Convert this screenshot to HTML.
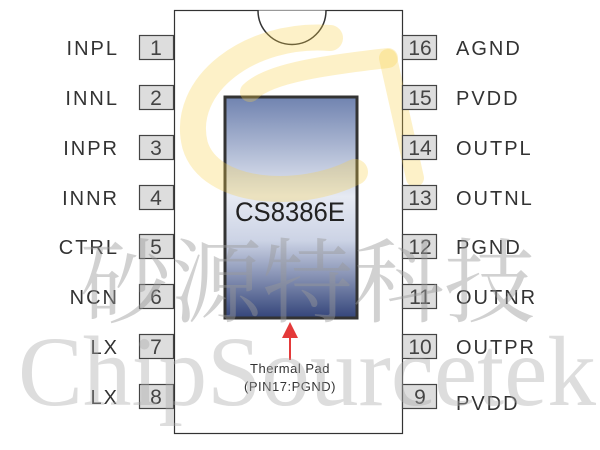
<!DOCTYPE html>
<html><head><meta charset="utf-8"><style>
body{margin:0;width:600px;height:450px;background:#fff;overflow:hidden;position:relative;font-family:"Liberation Sans",sans-serif}
</style></head><body>
<svg width="600" height="450" viewBox="0 0 600 450" style="position:absolute;left:0;top:0">
<defs>
<linearGradient id="g" x1="0" y1="0" x2="0" y2="1">
<stop offset="0" stop-color="#7083b0"/><stop offset="0.45" stop-color="#e6eaf3"/><stop offset="0.65" stop-color="#ccd3e5"/><stop offset="1" stop-color="#34457a"/>
</linearGradient>
</defs>
<rect x="174.5" y="10.5" width="228" height="423" fill="#fff" stroke="#333" stroke-width="1.2"/>
<path d="M258 10.5 A34 34 0 0 0 326 10.5" fill="#fff" stroke="#333" stroke-width="1.5"/>
<rect x="225" y="97" width="132" height="221" fill="url(#g)" stroke="#333" stroke-width="3"/>
<g fill="none" stroke="#f7d24a" stroke-opacity="0.3" stroke-linecap="round">
<path d="M330 38 C250 32 180 85 195 145 C210 195 300 200 355 172" stroke-width="26"/>
<path d="M250 92 C270 72 330 65 388 58" stroke-width="20"/>
<path d="M388 58 L415 178" stroke-width="18"/>
</g>
<text x="290" y="221" font-family="Liberation Sans Narrow,Liberation Sans,sans-serif" font-size="27" fill="#222" text-anchor="middle" textLength="110" lengthAdjust="spacingAndGlyphs">CS8386E</text>
<line x1="290" y1="336" x2="290" y2="360" stroke="#e43a3a" stroke-width="2"/>
<polygon points="290,322 282,338 298,338" fill="#e43a3a"/>
<text x="290" y="373" font-size="13" fill="#333" text-anchor="middle" letter-spacing="0.5">Thermal Pad</text>
<text x="290" y="391" font-size="13" fill="#333" text-anchor="middle" letter-spacing="0.5">(PIN17:PGND)</text>
<g fill="#ddd" stroke="#444" stroke-width="1.2">
<rect x="139.5" y="35.5" width="34" height="24"/><rect x="139.5" y="85.5" width="34" height="24"/>
<rect x="139.5" y="135.5" width="34" height="24"/><rect x="139.5" y="185.5" width="34" height="24"/>
<rect x="139.5" y="234.5" width="34" height="24"/><rect x="139.5" y="284.5" width="34" height="24"/>
<rect x="139.5" y="334.5" width="34" height="24"/><rect x="139.5" y="384.5" width="34" height="24"/>
<rect x="402.5" y="35.5" width="34" height="24"/><rect x="402.5" y="85.5" width="34" height="24"/>
<rect x="402.5" y="135.5" width="34" height="24"/><rect x="402.5" y="185.5" width="34" height="24"/>
<rect x="402.5" y="234.5" width="34" height="24"/><rect x="402.5" y="284.5" width="34" height="24"/>
<rect x="402.5" y="334.5" width="34" height="24"/><rect x="402.5" y="384.5" width="34" height="24"/>
</g>
<g font-size="21" fill="#444" text-anchor="middle">
<text x="156" y="55">1</text><text x="156" y="105">2</text><text x="156" y="155">3</text><text x="156" y="205">4</text>
<text x="156" y="254">5</text><text x="156" y="304">6</text><text x="156" y="354">7</text><text x="156" y="404">8</text>
<text x="420" y="55">16</text><text x="420" y="105">15</text><text x="420" y="155">14</text><text x="420" y="205">13</text>
<text x="420" y="254">12</text><text x="420" y="304">11</text><text x="420" y="354">10</text><text x="420" y="404">9</text>
</g>
<g font-size="20" fill="#333" text-anchor="end" letter-spacing="2">
<text x="119" y="55">INPL</text><text x="119" y="105">INNL</text><text x="119" y="155">INPR</text><text x="119" y="205">INNR</text>
<text x="119" y="254">CTRL</text><text x="119" y="304">NCN</text><text x="119" y="354">LX</text><text x="119" y="404">LX</text>
</g>
<g font-size="20" fill="#333" letter-spacing="2">
<text x="456" y="55">AGND</text><text x="456" y="105">PVDD</text><text x="456" y="155">OUTPL</text><text x="456" y="205">OUTNL</text>
<text x="456" y="254">PGND</text><text x="456" y="304">OUTNR</text><text x="456" y="354">OUTPR</text><text x="456" y="410">PVDD</text>
</g>
<text x="80" y="315" font-family="Noto Serif CJK SC,serif" font-size="92" fill="#999" fill-opacity="0.45" textLength="455" lengthAdjust="spacingAndGlyphs">砂源特科技</text>
<text x="18" y="405" font-family="Liberation Serif,serif" font-size="100" fill="#aaa" fill-opacity="0.4" textLength="578" lengthAdjust="spacingAndGlyphs">ChipSourcetek</text>
</svg>
</body></html>
